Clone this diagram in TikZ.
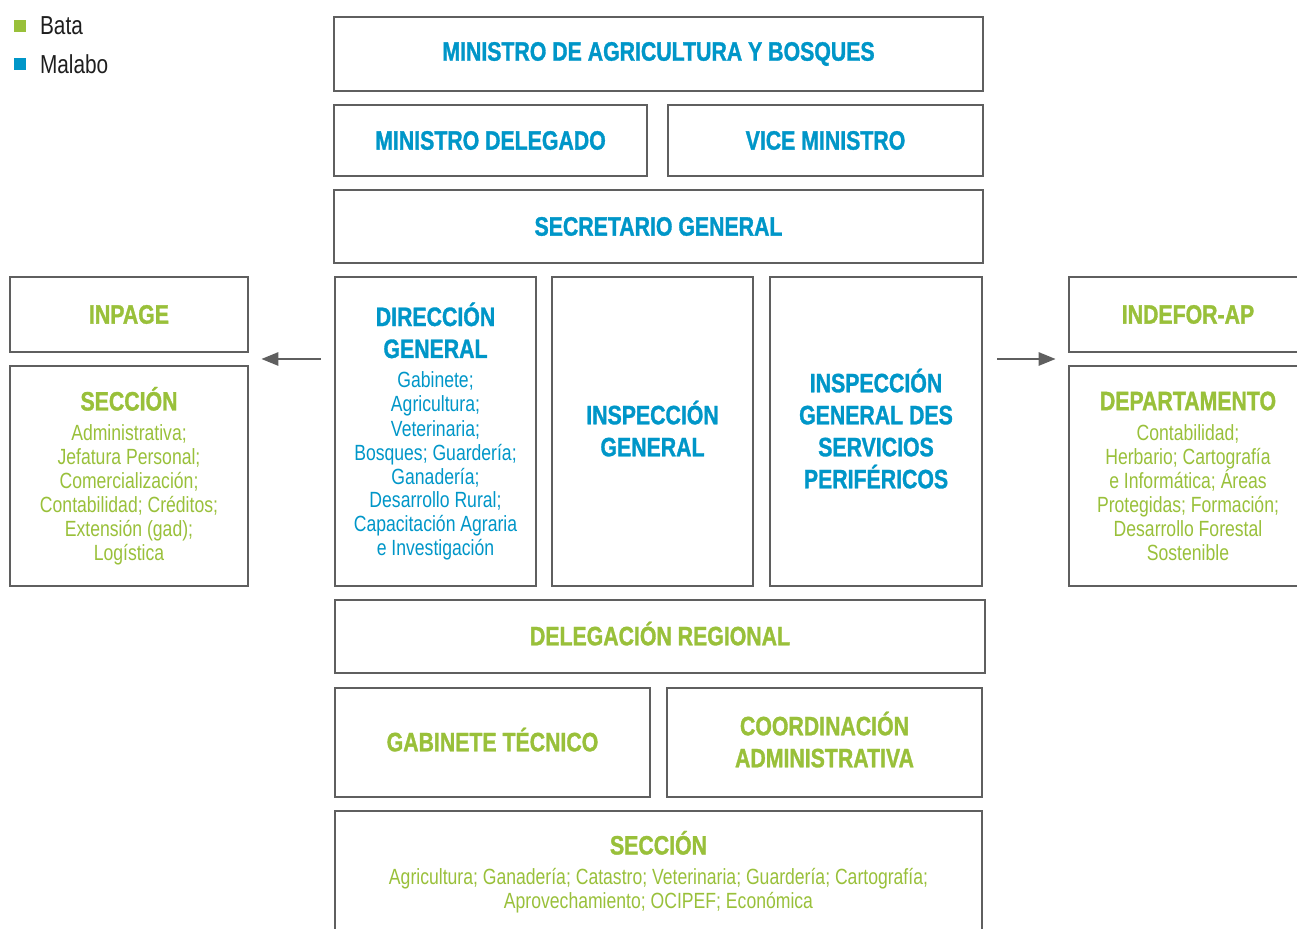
\documentclass[tikz,border=0pt]{standalone}
\usepackage{fontspec}
\setmainfont{Liberation Sans}[FakeStretch=0.8,BoldFeatures={FakeBold=1.2}]
\usetikzlibrary{arrows.meta,calc}
\definecolor{malabo}{RGB}{0,150,200}
\definecolor{bata}{RGB}{153,192,58}
\definecolor{rule}{RGB}{95,95,95}
\definecolor{ink}{RGB}{30,30,30}
\newcommand{\hd}{\fontsize{13.3}{16}\selectfont\bfseries}
\tikzset{unit/.style={draw=rule,line width=1.3pt,align=center,inner sep=0pt,font=\fontsize{11}{12}\selectfont},
	wh/.style 2 args={minimum width=#1*0.5pt,minimum height=#2*0.5pt},
	acc/.style={text depth=3pt},
	arr/.style={draw=rule,line width=1.3pt,-{Triangle[length=8.5pt,width=6.5pt]}}}
\begin{document}
\begin{tikzpicture}[x=0.5pt,y=-0.5pt]
	\useasboundingbox (0,0) rectangle (1297,929);
	\node[fill=bata,minimum size=6pt,inner sep=0pt] (kbata) at (20,26){};\node[anchor=west,text=ink,font=\fontsize{13}{15}\selectfont] (lbata) at (33,26){Bata};
	\node[fill=malabo,minimum size=6pt,inner sep=0pt] (kmalabo) at (20,64.5){};\node[anchor=west,text=ink,font=\fontsize{13}{15}\selectfont] (lmalabo) at (33,64.5){Malabo};
	\node[unit,text=malabo,wh={649}{74}] (min) at (658.5,54){{\hd MINISTRO DE AGRICULTURA Y BOSQUES}};
	\node[unit,text=malabo,wh={313}{71}] (del) at (490.5,140.5){{\hd MINISTRO DELEGADO}};
	\node[unit,text=malabo,wh={315}{71}] (vice) at (825.5,140.5){{\hd VICE MINISTRO}};
	\node[unit,text=malabo,wh={649}{73}] (sec) at (658.5,226.5){{\hd SECRETARIO GENERAL}};
	\node[unit,text=malabo,wh={201}{309}] (dg) at (435.5,431.5){{\hd DIRECCIÓN}\\[4pt]{\hd GENERAL}\\[3pt]Gabinete;\\Agricultura;\\Veterinaria;\\Bosques; Guardería;\\Ganadería;\\Desarrollo Rural;\\Capacitación Agraria\\e Investigación};
	\node[unit,acc,text=malabo,wh={201}{309}] (ig) at (652.5,431.5){{\hd INSPECCIÓN}\\[4pt]{\hd GENERAL}};
	\node[unit,acc,text=malabo,wh={212}{309}] (igsp) at (876,431.5){{\hd INSPECCIÓN}\\[4pt]{\hd GENERAL DES}\\[4pt]{\hd SERVICIOS}\\[4pt]{\hd PERIFÉRICOS}};
	\node[unit,text=bata,wh={238}{75}] (inpage) at (129,314.5){{\hd INPAGE}};
	\node[unit,text=bata,wh={238}{220}] (secl) at (129,476){{\hd SECCIÓN}\\[3pt]Administrativa;\\Jefatura Personal;\\Comercialización;\\Contabilidad; Créditos;\\Extensión (gad);\\Logística};
	\node[unit,text=bata,wh={238}{75}] (indefor) at (1188,314.5){{\hd INDEFOR-AP}};
	\node[unit,text=bata,wh={238}{220}] (dept) at (1188,476){{\hd DEPARTAMENTO}\\[3pt]Contabilidad;\\Herbario; Cartografía\\e Informática; Áreas\\Protegidas; Formación;\\Desarrollo Forestal\\Sostenible};
	\node[unit,acc,text=bata,wh={650}{73}] (dr) at (660,636.5){{\hd DELEGACIÓN REGIONAL}};
	\node[unit,acc,text=bata,wh={315}{109}] (gt) at (492.5,742.5){{\hd GABINETE TÉCNICO}};
	\node[unit,acc,text=bata,wh={315}{109}] (ca) at (824.5,742.5){{\hd COORDINACIÓN}\\[4pt]{\hd ADMINISTRATIVA}};
	\node[unit,text=bata,wh={647}{122}] (secb) at (658.5,872){{\hd SECCIÓN}\\[3pt]Agricultura; Ganadería; Catastro; Veterinaria; Guardería; Cartografía;\\Aprovechamiento; OCIPEF; Económica};
	\coordinate (lgap) at ($(inpage.south)!0.5!(secl.north)$);\coordinate (rgap) at ($(indefor.south)!0.5!(dept.north)$);
	\draw[arr,shorten <=6.5pt,shorten >=6pt] (dg.west |- lgap) -- (lgap -| secl.east);
	\draw[arr,shorten <=7pt,shorten >=6pt] (igsp.east |- rgap) -- (rgap -| dept.west);
\end{tikzpicture}
\end{document}
